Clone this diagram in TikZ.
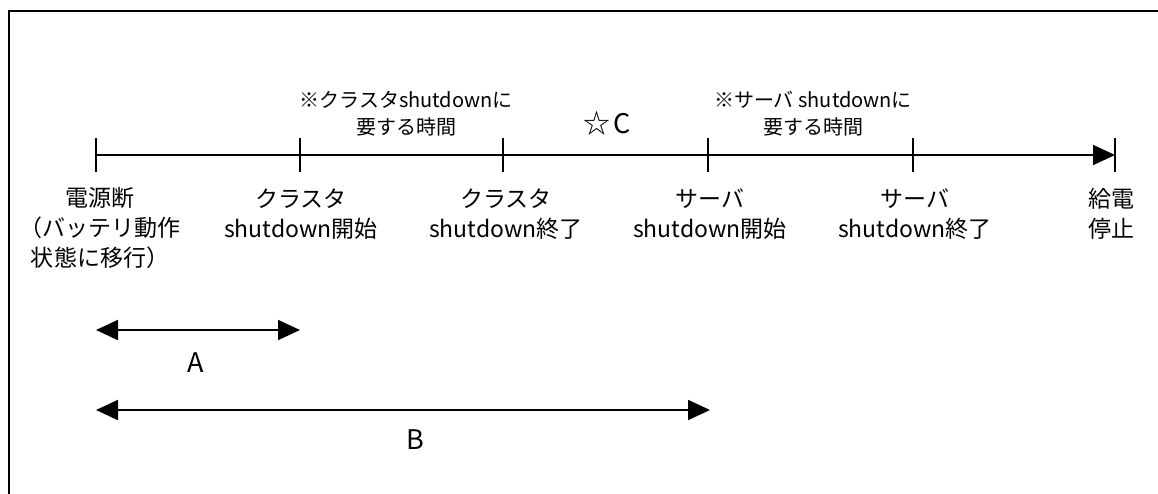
\documentclass[tikz,border=0pt]{standalone}
\usepackage{fontspec}
\setmainfont{Noto Sans CJK JP}
\usetikzlibrary{arrows.meta}
\begin{document}
\begin{tikzpicture}[x=1pt,y=-1pt,
  frame/.style={line width=2pt},
  axis/.style={line width=1.8pt,-{Triangle[length=22pt,width=20pt]}},
  tick/.style={line width=1.4pt},
  span/.style={line width=1.8pt,{Triangle[length=22pt,width=20pt]}-{Triangle[length=22pt,width=20pt]}},
  lbl/.style={inner sep=0pt,align=center,font=\fontsize{23}{30}\selectfont},
  note/.style={inner sep=0pt,align=center,font=\fontsize{20}{27}\selectfont},
  big/.style={inner sep=0pt,font=\fontsize{27}{30}\selectfont}]
\useasboundingbox (0,0) rectangle (1158,494);
\fill[white] (0,0) rectangle (1158,494);
\draw[frame] (9,494) -- (9,11) -- (1158,11);
% ticks
\foreach \n/\x in {t0/96,t1/300,t2/503,t3/708,t4/913,t5/1115}{
  \coordinate (\n) at (\x,155);
  \coordinate (\n top) at (\x,138);
  \coordinate (\n bot) at (\x,172);
  \draw[tick] (\n top) -- (\n bot);
}
\draw[axis] (t0) -- (t5);
% labels under axis
\node[lbl] (l0) at (100,228) {電源断\\（バッテリ動作\\状態に移行）};
\node[lbl] (l1) at (301,214) {クラスタ\\shutdown開始};
\node[lbl] (l2) at (506,214) {クラスタ\\shutdown終了};
\node[lbl] (l3) at (710,214) {サーバ\\shutdown開始};
\node[lbl] (l4) at (915,214) {サーバ\\shutdown終了};
\node[lbl] (l5) at (1111,214) {給電\\停止};
% notes above axis
\node[note] (n1) at (406,113.5) {※クラスタshutdownに\\要する時間};
\node[note] (n2) at (813,113.5) {※サーバ shutdownに\\要する時間};
\node[big] (c) at (607,123) {☆\hspace{3pt}C};
% spans
\coordinate (a0) at (96,330);
\coordinate (a1) at (300,330);
\draw[span] (a0) -- (a1);
\node[big] (A) at (196,363) {A};
\coordinate (b0) at (96,410);
\coordinate (b1) at (710,410);
\draw[span] (b0) -- (b1);
\node[big] (B) at (415,440) {B};
\end{tikzpicture}
\end{document}
